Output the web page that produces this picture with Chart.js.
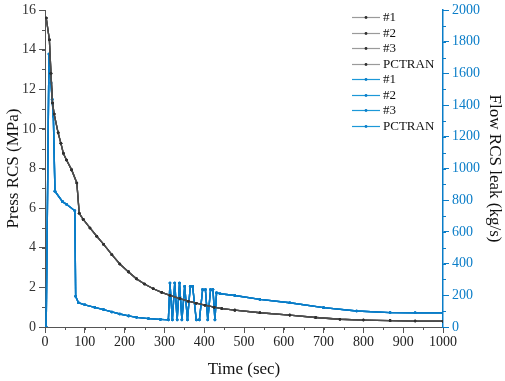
<!DOCTYPE html>
<html>
<head>
<meta charset="utf-8">
<script src="https://cdn.jsdelivr.net/npm/chart.js@4.4.1/dist/chart.umd.min.js"></script>
<style>
  html, body { margin: 0; padding: 0; background: #fff; }
</style>
</head>
<body>
<canvas id="rcsChart" width="505" height="381"></canvas>
<script>
// Pressure (left axis, MPa)
const pressTime  = [3, 11, 15, 19, 23, 33, 40, 46, 54, 67, 80, 86, 96, 113, 130, 147, 168, 188, 210, 230, 250, 272, 293, 314, 339, 360, 380, 402, 425, 444, 477, 540, 615, 680, 741, 800, 867, 930, 1000];
const pressValue = [15.6, 14.5, 12.8, 11.3, 10.75, 9.8, 9.27, 8.77, 8.43, 7.93, 7.27, 5.74, 5.43, 5.0, 4.58, 4.18, 3.65, 3.18, 2.78, 2.43, 2.17, 1.93, 1.75, 1.6, 1.43, 1.3, 1.2, 1.1, 1.0, 0.93, 0.85, 0.72, 0.6, 0.48, 0.39, 0.35, 0.32, 0.3, 0.29];

// Leak flow (right axis, kg/s)
const flowTime  = [3, 10, 15, 18, 21, 25, 44, 54, 75, 77, 84, 100, 125, 147, 168, 188, 210, 230, 260, 290, 310,
                   314, 320, 326, 332, 338, 344, 351, 358, 365, 371, 380, 388, 396, 403, 409, 416, 422, 427, 431,
                   440, 477, 540, 615, 700, 783, 867, 930, 1000];
const flowValue = [0, 1722, 1540, 1436, 1330, 857, 791, 774, 733, 194, 153, 140, 124, 110, 95, 82, 70, 61, 53, 48, 45,
                   277, 45, 277, 45, 277, 45, 256, 45, 256, 256, 45, 45, 236, 236, 45, 236, 236, 45, 215,
                   210, 199, 174, 153, 122, 101, 91, 90, 89];

const seriesNames = ['#1', '#2', '#3', 'PCTRAN'];
const xTicks = { min: 0, max: 1000, step: 100, minor: 50 };
const pressTicks = { min: 0, max: 16, step: 2, minor: 1 };
const flowTicks = { min: 0, max: 2000, step: 200, minor: 100 };

const grayLine = '#4d4d4d';
const grayDot = '#2f2f2f';
const blueLine = '#0a7dc8';
const axisGray = '#555';

const serif = "'Liberation Serif', 'Times New Roman', serif";
Chart.defaults.font.family = serif;

const toPoints = (xs, ys) => xs.map((x, i) => ({ x: x, y: ys[i] }));
const plain = v => String(v);

const datasets = [];
seriesNames.forEach(name => {
    datasets.push({
        label: name,
        data: toPoints(pressTime, pressValue),
        yAxisID: 'y',
        borderColor: grayLine,
        backgroundColor: grayDot,
        pointBackgroundColor: grayDot,
        borderWidth: 1.3,
        pointRadius: 1.3,
        pointBorderWidth: 0,
        tension: 0
    });
});
seriesNames.forEach(name => {
    datasets.push({
        label: name,
        data: toPoints(flowTime, flowValue),
        yAxisID: 'y1',
        borderColor: blueLine,
        backgroundColor: blueLine,
        pointBackgroundColor: blueLine,
        borderWidth: 1.4,
        pointRadius: 1.3,
        pointBorderWidth: 0,
        tension: 0
    });
});

// small unlabeled ticks between the major ones
const minorTicks = {
    id: 'minorTicks',
    afterDraw(chart) {
        const ctx = chart.ctx;
        const steps = { x: xTicks.minor, y: pressTicks.minor, y1: flowTicks.minor };
        Object.keys(steps).forEach(id => {
            const s = chart.scales[id];
            ctx.save();
            ctx.strokeStyle = s.options.border.color;
            ctx.lineWidth = 1;
            for (let v = s.min; v <= s.max + 1e-9; v += steps[id]) {
                const p = Math.round(s.getPixelForValue(v)) + 0.5;
                ctx.beginPath();
                if (id === 'x') { ctx.moveTo(p, s.top); ctx.lineTo(p, s.top + 3); }
                else if (s.position === 'left') { ctx.moveTo(s.right, p); ctx.lineTo(s.right - 3, p); }
                else { ctx.moveTo(s.left, p); ctx.lineTo(s.left + 3, p); }
                ctx.stroke();
            }
            ctx.restore();
        });
    }
};

// legend drawn inside the plot, top right
const insideLegend = {
    id: 'insideLegend',
    afterDraw(chart) {
        const ctx = chart.ctx;
        const area = chart.chartArea;
        ctx.save();
        ctx.font = '13px ' + serif;
        ctx.textBaseline = 'middle';
        chart.data.datasets.forEach((ds, i) => {
            const y = Math.round(area.top + 7 + i * 15.5) + 0.5;
            const x1 = area.right - 91, x2 = area.right - 63;
            ctx.strokeStyle = ds.yAxisID === 'y' ? '#9a9a9a' : '#1c98d8';
            ctx.lineWidth = 1.2;
            ctx.beginPath();
            ctx.moveTo(x1, y);
            ctx.lineTo(x2, y);
            ctx.stroke();
            ctx.fillStyle = ds.pointBackgroundColor;
            ctx.beginPath();
            ctx.arc((x1 + x2) / 2, y, 1.4, 0, Math.PI * 2);
            ctx.fill();
            ctx.fillStyle = '#111';
            ctx.fillText(ds.label, area.right - 60, y + 0.5);
        });
        ctx.restore();
    }
};

const rcsChart = new Chart(document.getElementById('rcsChart'), {
    type: 'line',
    data: { datasets: datasets },
    options: {
        responsive: false,
        animation: false,
        layout: { padding: { top: 6, left: 0, right: 0, bottom: 0 } },
        plugins: {
            legend: { display: false },
            tooltip: { enabled: false }
        },
        scales: {
            x: {
                type: 'linear',
                min: xTicks.min,
                max: xTicks.max,
                afterFit: s => { s.height = 54; },
                border: { display: true, color: axisGray, width: 1 },
                grid: { drawOnChartArea: false, drawTicks: true, tickLength: 6, tickColor: axisGray },
                ticks: { stepSize: xTicks.step, color: '#222', padding: 2, maxRotation: 0,
                         callback: plain, font: { size: 14, lineHeight: 1 } },
                title: { display: true, text: 'Time (sec)', color: '#111',
                         font: { size: 17 }, padding: { top: 0, bottom: 1 } }
            },
            y: {
                type: 'linear',
                position: 'left',
                min: pressTicks.min,
                max: pressTicks.max,
                afterFit: s => { s.width = 45; },
                border: { display: true, color: axisGray, width: 1 },
                grid: { drawOnChartArea: false, drawTicks: true, tickLength: 6, tickColor: axisGray },
                ticks: { stepSize: pressTicks.step, color: '#333', padding: 3,
                         callback: plain, font: { size: 14, lineHeight: 1 } },
                title: { display: true, text: 'Press RCS (MPa)', color: '#111',
                         font: { size: 17 }, padding: { top: 3, bottom: 0 } }
            },
            y1: {
                type: 'linear',
                position: 'right',
                min: flowTicks.min,
                max: flowTicks.max,
                afterFit: s => { s.width = 62; },
                border: { display: true, color: blueLine, width: 1.5 },
                grid: { drawOnChartArea: false, drawTicks: true, tickLength: 6, tickColor: blueLine },
                ticks: { stepSize: flowTicks.step, color: blueLine, padding: 3,
                         callback: plain, font: { size: 14, lineHeight: 1 } },
                title: { display: true, text: 'Flow RCS leak (kg/s)', color: '#111',
                         font: { size: 17 }, padding: { top: 0, bottom: 2 } }
            }
        }
    },
    plugins: [minorTicks, insideLegend]
});
</script>
</body>
</html>
